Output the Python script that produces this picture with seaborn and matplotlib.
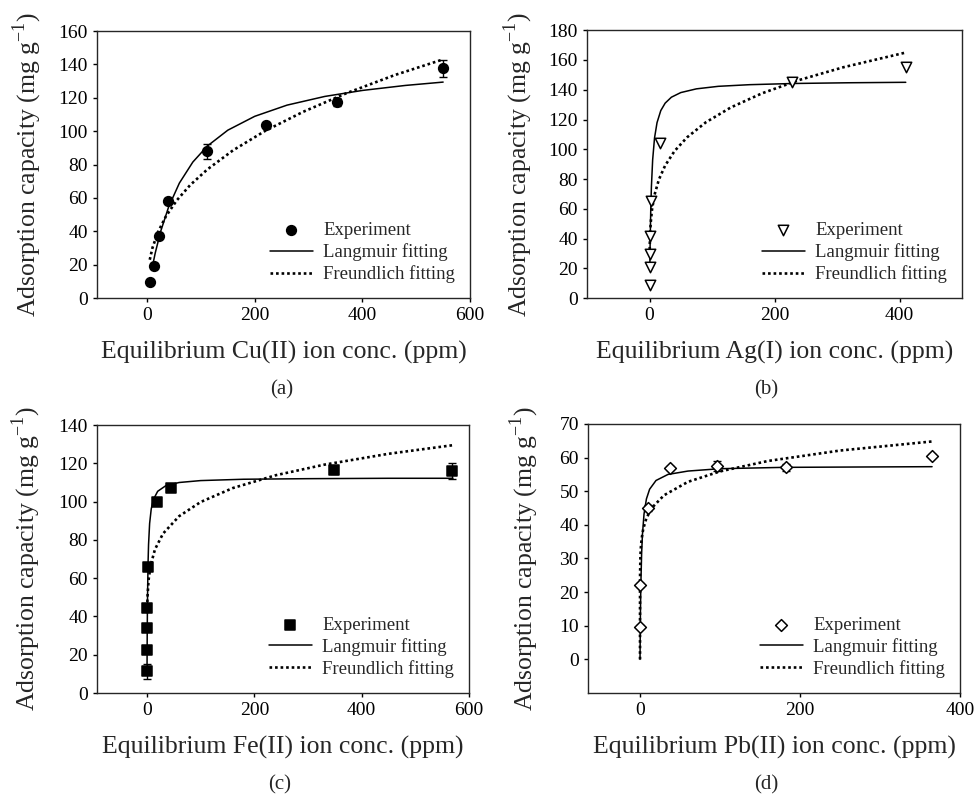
import numpy as np
import pandas as pd
import seaborn as sns
import matplotlib
matplotlib.use("Agg")
import matplotlib.pyplot as plt

sns.set_style("ticks")
plt.rcParams['font.family'] = ['Liberation Serif', 'DejaVu Serif']
plt.rcParams['mathtext.fontset'] = 'custom'
plt.rcParams['mathtext.rm'] = 'Liberation Serif'

# (a) Cu(II)
cu_x = [5, 12, 22, 38, 111, 221, 353, 550]
cu_y = [9.4, 19.4, 37.5, 58.3, 88.0, 103.6, 117.4, 137.7]
cu_err = [1.0, 1.5, 1.5, 1.5, 4.5, 1.5, 2.5, 5.0]
cu_lang_x = [10, 15, 25, 40, 60, 85, 112, 150, 200, 260, 330, 400, 480, 550]
cu_lang_y = [19.0, 26.8, 39.7, 54.6, 68.9, 81.5, 91.1, 100.6, 108.9, 115.6, 120.8, 124.4, 127.4, 129.4]
cu_freu_x = [5, 10, 20, 35, 55, 80, 112, 160, 220, 290, 370, 460, 550]
cu_freu_y = [23.0, 30.1, 39.4, 49.0, 58.5, 67.7, 77.1, 88.6, 100.3, 111.6, 122.7, 133.6, 143.0]

# (b) Ag(I)
ag_x = [0, 0, 0, 0, 3, 17, 228, 410]
ag_y = [8.5, 20.8, 29.4, 42.0, 65.2, 104.5, 145.3, 155.5]
ag_lang_x = [0.5, 1, 2, 3, 5, 8, 12, 18, 25, 35, 50, 75, 110, 160, 230, 320, 410]
ag_lang_y = [21.7, 37.9, 60.1, 74.8, 92.9, 107.6, 117.9, 126.0, 131.0, 135.0, 138.1, 140.6,
             142.3, 143.4, 144.2, 144.7, 145.0]
ag_freu_x = [0.15, 0.5, 1, 2, 4, 8, 15, 25, 40, 60, 90, 130, 180, 240, 310, 410]
ag_freu_y = [28.9, 37.7, 43.9, 51.1, 59.6, 69.4, 79.7, 89.1, 98.8, 108.0, 118.1, 128.1,
             137.6, 146.6, 155.1, 165.0]

# (c) Fe(II)
fe_x = [0, 0, 0, 0, 2.5, 19, 45, 348, 569]
fe_y = [11.3, 22.3, 33.9, 44.3, 65.6, 99.7, 107.0, 116.5, 116.0]
fe_err = [4.0, 1.5, 1.5, 1.5, 1.0, 1.0, 1.5, 2.0, 4.0]
fe_lang_x = [0.2, 0.5, 1, 2, 3, 5, 8, 12, 20, 35, 60, 100, 180, 300, 450, 570]
fe_lang_y = [14.5, 30.4, 47.8, 67.1, 77.6, 88.6, 96.2, 101.1, 105.4, 108.3, 110.0, 111.0,
             111.7, 112.0, 112.2, 112.2]
fe_freu_x = [0.3, 1, 3, 7, 15, 30, 60, 100, 160, 240, 330, 450, 570]
fe_freu_y = [41.7, 50.0, 59.0, 66.9, 75.1, 83.3, 92.4, 99.8, 107.1, 113.8, 119.3, 125.0, 129.5]

# (d) Pb(II)
pb_x = [0, 0, 10, 37, 96, 182.5, 365]
pb_y = [9.7, 22.1, 45.0, 56.9, 57.4, 57.1, 60.6]
pb_err = [0.5, 0.5, 1.0, 0.5, 1.5, 1.0, 0.5]
pb_lang_x = [0, 0.5, 1, 2, 3, 5, 8, 12, 20, 35, 60, 100, 180, 270, 365]
pb_lang_y = [0.0, 13.3, 21.6, 31.4, 37.0, 43.2, 47.7, 50.6, 53.2, 55.0, 56.0, 56.7, 57.1, 57.2, 57.3]
pb_freu_x = [0, 0.01, 0.1, 0.5, 1, 2, 4, 8, 15, 30, 60, 100, 160, 250, 365]
pb_freu_y = [0.0, 19.6, 25.5, 30.6, 33.1, 35.8, 38.8, 42.0, 45.1, 48.8, 52.8, 55.9, 59.0, 62.1, 64.8]

fig = plt.figure(figsize=(9.74, 7.95), dpi=100)

panels = [
    dict(rect=[0.0996, 0.625, 0.383, 0.336], x=cu_x, y=cu_y, err=cu_err,
         lx=cu_lang_x, ly=cu_lang_y, fx=cu_freu_x, fy=cu_freu_y,
         marker='o', face='black', ms=7, xlim=(-93, 600), ylim=(0, 160),
         xticks=[0, 200, 400, 600], yticks=range(0, 161, 20),
         ion='Cu(II)', cap='(a)', cappos=(0.289, 0.51), ylx=-0.142),
    dict(rect=[0.6027, 0.625, 0.385, 0.337], x=ag_x, y=ag_y, err=None,
         lx=ag_lang_x, ly=ag_lang_y, fx=ag_freu_x, fy=ag_freu_y,
         marker='v', face='white', ms=7.5, xlim=(-100, 500), ylim=(0, 180),
         xticks=[0, 200, 400], yticks=range(0, 181, 20),
         ion='Ag(I)', cap='(b)', cappos=(0.787, 0.51), ylx=-0.138),
    dict(rect=[0.0996, 0.1283, 0.382, 0.337], x=fe_x, y=fe_y, err=fe_err,
         lx=fe_lang_x, ly=fe_lang_y, fx=fe_freu_x, fy=fe_freu_y,
         marker='s', face='black', ms=6.5, xlim=(-93, 600), ylim=(0, 140),
         xticks=[0, 200, 400, 600], yticks=range(0, 141, 20),
         ion='Fe(II)', cap='(c)', cappos=(0.287, 0.013), ylx=-0.145),
    dict(rect=[0.6037, 0.1283, 0.382, 0.3384], x=pb_x, y=pb_y, err=pb_err,
         lx=pb_lang_x, ly=pb_lang_y, fx=pb_freu_x, fy=pb_freu_y,
         marker='D', face='white', ms=6, xlim=(-65, 400), ylim=(-10, 70),
         xticks=[0, 200, 400], yticks=range(0, 71, 10),
         ion='Pb(II)', cap='(d)', cappos=(0.787, 0.013), ylx=-0.127),
]

for p in panels:
    ax = fig.add_axes(p['rect'])
    if p['err'] is not None:
        ax.errorbar(p['x'], p['y'], yerr=p['err'], fmt='none', ecolor='black',
                    elinewidth=1, capsize=3, capthick=1, zorder=2)
    sns.lineplot(x=p['lx'], y=p['ly'], ax=ax, color='black', linewidth=1.1,
                 sort=False, estimator=None, label='Langmuir fitting', zorder=3)
    sns.lineplot(x=p['fx'], y=p['fy'], ax=ax, color='black', linewidth=1.9,
                 sort=False, estimator=None, label='Freundlich fitting', zorder=3)
    ax.lines[-1].set_linestyle((0, (1, 1.1)))
    sns.scatterplot(x=p['x'], y=p['y'], ax=ax, marker=p['marker'], color=p['face'],
                    edgecolor='black', linewidth=1.1, s=p['ms'] ** 2,
                    label='Experiment', zorder=4)
    ax.set_xlim(*p['xlim'])
    ax.set_ylim(*p['ylim'])
    ax.set_xticks(p['xticks'])
    ax.set_yticks(list(p['yticks']))
    ax.tick_params(labelsize=14, length=3, width=1, direction='out', colors='black')
    for s in ax.spines.values():
        s.set_visible(True)
        s.set_linewidth(1)
    ax.set_xlabel('Equilibrium %s ion conc. (ppm)' % p['ion'], fontsize=18.5)
    ax.set_ylabel('Adsorption capacity (mg g$^{-1}$)', fontsize=18.5)
    ax.xaxis.set_label_coords(0.5, -0.16)
    ax.yaxis.set_label_coords(p['ylx'], 0.5)
    h, l = ax.get_legend_handles_labels()
    order = [l.index('Experiment'), l.index('Langmuir fitting'), l.index('Freundlich fitting')]
    ax.legend([h[i] for i in order], [l[i] for i in order], loc='lower right',
              frameon=False, fontsize=13.5, handlelength=2.3, handletextpad=0.55,
              labelspacing=0.22, borderaxespad=0.3, borderpad=0.5)
    fig.text(p['cappos'][0], p['cappos'][1], p['cap'], fontsize=15, ha='center', va='center')

fig.savefig('out.png', dpi=100)
